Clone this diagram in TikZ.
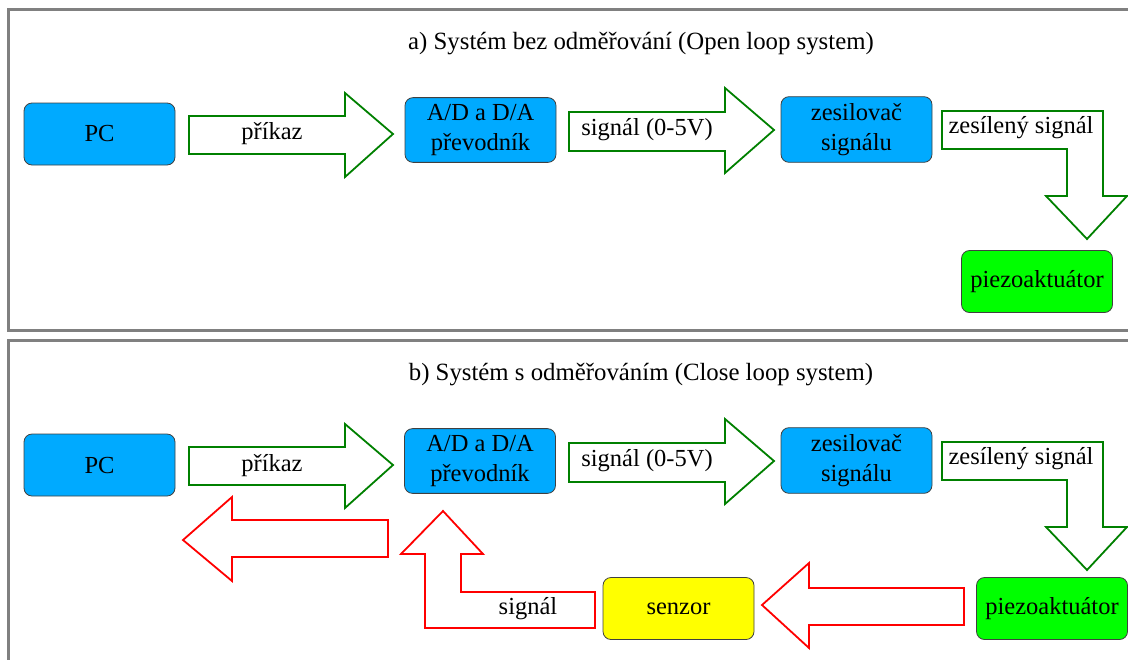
\documentclass[tikz,border=0pt]{standalone}
\usepackage{fontspec}
\setmainfont{Liberation Serif}
\definecolor{boxblue}{RGB}{0,170,255}
\definecolor{boxgreen}{RGB}{0,255,0}
\definecolor{boxyellow}{RGB}{255,255,0}
\definecolor{arrgreen}{RGB}{0,128,0}
\tikzset{
    %Define style for boxes
    blok/.style={
           rectangle,
           rounded corners=4pt,
           draw=black!75, line width=0.4pt,
           minimum width=75.5pt,
           minimum height=31pt,
           align=center,
           font=\fontsize{12.25}{15}\selectfont,
           fill=boxblue},
    blokzel/.style={blok, fill=boxgreen},
    blokzlut/.style={blok, fill=boxyellow},
    % Define style for block arrows
    zelena/.style={draw=arrgreen, line width=0.9pt, fill=white},
    cervena/.style={draw=red, line width=0.9pt, fill=white},
    popis/.style={font=\fontsize{12.25}{15}\selectfont, inner sep=0pt},
    nadpis/.style={font=\fontsize{12.4}{15}\selectfont, inner sep=0pt},
    ramecek/.style={draw=black!50, line width=1.5pt}
}
\begin{document}
\begin{tikzpicture}[x=0.5pt,y=-0.5pt]
\useasboundingbox (0,0) rectangle (1128,659);

 %panels
\draw[ramecek] (1135,9.5) -- (8.5,9.5) -- (8.5,330.5) -- (1135,330.5);
\draw[ramecek] (1135,340.5) -- (8.5,340.5) -- (8.5,665);
\node[nadpis](titulA) at (641,44){a) Systém bez odměřování (Open loop system)};
\node[nadpis](titulB) at (641,375){b) Systém s odměřováním (Close loop system)};

 %a) open loop
\node[blok](pcA) at (99.5,134){PC};
\node[blok](adA) at (480.5,130){A/D a D/A\\převodník};
\node[blok](zesA) at (856.5,129.5){zesilovač\\signálu};
\node[blokzel](piezoA) at (1037,281.5){piezoaktuátor};
\draw[zelena] (189,116) -- (345,116) -- (345,93) -- (393,134) -- (345,177) -- (345,154) -- (189,154) -- cycle;
\draw[zelena] (569,112) -- (725,112) -- (725,88) -- (774,130) -- (725,173) -- (725,151) -- (569,151) -- cycle;
\draw[zelena] (942,111) -- (1103,111) -- (1103,196) -- (1127,196) -- (1087,239) -- (1046,196) -- (1067,196) -- (1067,149) -- (942,149) -- cycle;
\node[popis](prikazA) at (272,134){příkaz};
\node[popis](signalA) at (647,130){signál (0-5V)};
\node[popis](zesilenyA) at (1021,128){zesílený signál};

 %b) close loop
\node[blok](pcB) at (99.5,465){PC};
\node[blok](adB) at (480,461){A/D a D/A\\převodník};
\node[blok](zesB) at (856.5,460.5){zesilovač\\signálu};
\node[blokzel](piezoB) at (1052,608.5){piezoaktuátor};
\node[blokzlut](senzor) at (678.5,608.5){senzor};
\draw[zelena] (189,447) -- (345,447) -- (345,424) -- (393,465) -- (345,508) -- (345,485) -- (189,485) -- cycle;
\draw[zelena] (569,443) -- (725,443) -- (725,419) -- (774,461) -- (725,504) -- (725,482) -- (569,482) -- cycle;
\draw[zelena] (942,442) -- (1103,442) -- (1103,527) -- (1127,527) -- (1087,570) -- (1046,527) -- (1067,527) -- (1067,480) -- (942,480) -- cycle;
\draw[cervena] (964,588) -- (809,588) -- (809,563) -- (762,605) -- (809,648) -- (809,625) -- (964,625) -- cycle;
\draw[cervena] (595,592) -- (461,592) -- (461,554) -- (483,554) -- (443,511) -- (401,554) -- (425,554) -- (425,628) -- (595,628) -- cycle;
\draw[cervena] (388,520) -- (232,520) -- (232,497) -- (183,540) -- (232,581) -- (232,557) -- (388,557) -- cycle;
\node[popis](prikazB) at (272,466){příkaz};
\node[popis](signalB) at (647,461){signál (0-5V)};
\node[popis](zesilenyB) at (1021,459){zesílený signál};
\node[popis](signalzpet) at (528,609){signál};
\end{tikzpicture}
\end{document}
